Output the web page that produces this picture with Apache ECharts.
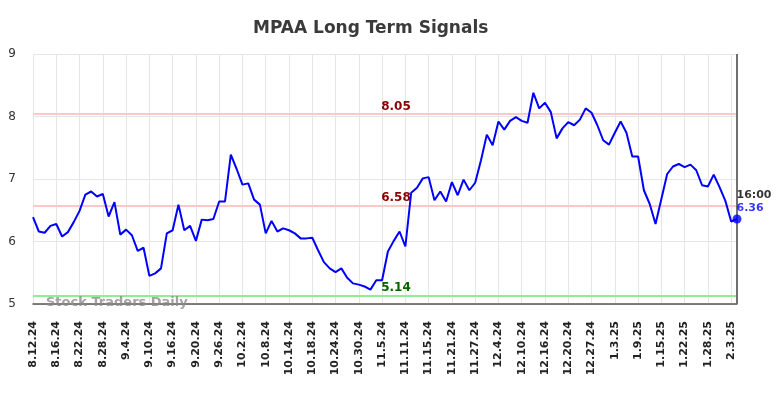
<!DOCTYPE html>
<html><head><meta charset="utf-8">
<script src="https://cdn.jsdelivr.net/npm/echarts@6/dist/echarts.min.js"></script>
<style>html,body{margin:0;padding:0;background:#fff}#c{width:784px;height:398px}</style>
</head><body><div id="c"></div>
<script>
const dates = [
'8.12.24','8.13.24','8.14.24','8.15.24','8.16.24','8.19.24','8.20.24','8.21.24','8.22.24','8.23.24',
'8.26.24','8.27.24','8.28.24','8.29.24','8.30.24','9.3.24','9.4.24','9.5.24','9.6.24','9.9.24',
'9.10.24','9.11.24','9.12.24','9.13.24','9.16.24','9.17.24','9.18.24','9.19.24','9.20.24','9.23.24',
'9.24.24','9.25.24','9.26.24','9.27.24','9.30.24','10.1.24','10.2.24','10.3.24','10.4.24','10.7.24',
'10.8.24','10.9.24','10.10.24','10.11.24','10.14.24','10.15.24','10.16.24','10.17.24','10.18.24','10.21.24',
'10.22.24','10.23.24','10.24.24','10.25.24','10.28.24','10.29.24','10.30.24','10.31.24','11.1.24','11.4.24',
'11.5.24','11.6.24','11.7.24','11.8.24','11.11.24','11.12.24','11.13.24','11.14.24','11.15.24','11.18.24',
'11.19.24','11.20.24','11.21.24','11.22.24','11.25.24','11.26.24','11.27.24','11.29.24','12.2.24','12.3.24',
'12.4.24','12.5.24','12.6.24','12.9.24','12.10.24','12.11.24','12.12.24','12.13.24','12.16.24','12.17.24',
'12.18.24','12.19.24','12.20.24','12.23.24','12.24.24','12.26.24','12.27.24','12.30.24','12.31.24','1.2.25',
'1.3.25','1.6.25','1.7.25','1.8.25','1.9.25','1.10.25','1.13.25','1.14.25','1.15.25','1.16.25',
'1.17.25','1.21.25','1.22.25','1.23.25','1.24.25','1.27.25','1.28.25','1.29.25','1.30.25','1.31.25',
'2.3.25','2.4.25'
];
const prices = [
6.39,6.16,6.14,6.25,6.28,6.08,6.15,6.31,6.49,6.75,
6.80,6.72,6.76,6.40,6.63,6.11,6.19,6.10,5.85,5.90,
5.45,5.49,5.57,6.13,6.18,6.59,6.18,6.25,6.01,6.35,
6.34,6.36,6.64,6.64,7.39,7.16,6.91,6.93,6.67,6.59,
6.13,6.33,6.16,6.21,6.18,6.13,6.05,6.05,6.06,5.86,
5.67,5.57,5.51,5.57,5.42,5.33,5.31,5.28,5.23,5.38,
5.38,5.84,6.01,6.16,5.92,6.78,6.86,7.01,7.03,6.66,
6.80,6.64,6.95,6.74,6.99,6.82,6.94,7.30,7.71,7.54,
7.92,7.79,7.93,7.99,7.93,7.90,8.38,8.13,8.22,8.07,
7.65,7.81,7.91,7.86,7.95,8.13,8.06,7.86,7.62,7.55,
7.74,7.92,7.74,7.36,7.36,6.82,6.60,6.28,6.68,7.08,
7.20,7.24,7.19,7.23,7.14,6.90,6.88,7.07,6.87,6.65,
6.32,6.36
];
const resistanceLevels = [8.05, 6.58];
const supportLevels = [5.14];
const yTicks = [5, 6, 7, 8, 9];
const titleText = 'MPAA Long Term Signals';
const lastTime = '16:00';

const FONT = 'DejaVu Sans';
const lastIdx = prices.length - 1;
const chart = echarts.init(document.getElementById('c'), null, {renderer: 'canvas'});

const levelLines = [];
resistanceLevels.forEach(v => levelLines.push({
  yAxis: v,
  lineStyle: {color: '#ffc8c8', width: 2, type: 'solid'},
  label: {show: true, position: 'middle', formatter: v.toFixed(2), color: '#8b0000',
          fontFamily: FONT, fontWeight: 'bold', fontSize: 12, padding: [0, 0, 0, 22], distance: 1}
}));
supportLevels.forEach(v => levelLines.push({
  yAxis: v,
  lineStyle: {color: '#90ee90', width: 2, type: 'solid'},
  label: {show: true, position: 'middle', formatter: v.toFixed(2), color: '#006400',
          fontFamily: FONT, fontWeight: 'bold', fontSize: 12, padding: [0, 0, 0, 22], distance: 1}
}));
levelLines.push({
  xAxis: dates[lastIdx],
  lineStyle: {color: '#707070', width: 2, type: 'solid'},
  label: {show: false}
});

chart.setOption({
  animation: false,
  backgroundColor: '#fff',
  title: {
    text: titleText, left: 248, top: 15,
    textStyle: {fontFamily: FONT, fontSize: 17, fontWeight: 'bold', color: '#3a3a3a'}
  },
  grid: {left: 33, right: 47, top: 54, bottom: 94, containLabel: false},
  xAxis: {
    type: 'category', data: dates, boundaryGap: false,
    axisLine: {show: true, lineStyle: {color: '#555', width: 1.5}},
    axisTick: {show: false},
    axisLabel: {interval: 3, rotate: 90, margin: 17, fontFamily: FONT, fontSize: 11,
                fontWeight: 'bold', color: '#222'},
    splitLine: {show: true, interval: 3, lineStyle: {color: '#e6e6e6', width: 1}}
  },
  yAxis: {
    type: 'value', min: yTicks[0], max: yTicks[yTicks.length - 1], interval: 1,
    axisLine: {show: false}, axisTick: {show: false},
    axisLabel: {margin: 17, fontFamily: FONT, fontSize: 12, color: '#333'},
    splitLine: {show: true, lineStyle: {color: '#e6e6e6', width: 1}}
  },
  graphic: [{
    type: 'text', left: 46, top: 296, z: 100,
    style: {text: 'Stock Traders Daily', font: 'bold 13px "DejaVu Sans"', fill: 'rgba(140,140,140,0.8)'}
  }],
  series: [{
    type: 'line', data: prices, showSymbol: false, symbol: 'none',
    lineStyle: {color: '#0000ff', width: 2}, z: 3,
    markLine: {symbol: ['none', 'none'], silent: true, z: 2, data: levelLines}
  }, {
    type: 'scatter', data: [[lastIdx, prices[lastIdx]]], symbol: 'circle', symbolSize: 9,
    itemStyle: {color: '#0000ff'}, z: 5,
    label: {
      show: true, position: 'right', distance: -5, offset: [0, -17],
      formatter: () => '{t|' + lastTime + '}\n{v|' + prices[lastIdx].toFixed(2) + '}',
      rich: {
        t: {fontFamily: FONT, fontWeight: 'bold', fontSize: 11, color: '#000', lineHeight: 13},
        v: {fontFamily: FONT, fontWeight: 'bold', fontSize: 11, color: '#0000ff', lineHeight: 13}
      }
    }
  }]
});
</script></body></html>
